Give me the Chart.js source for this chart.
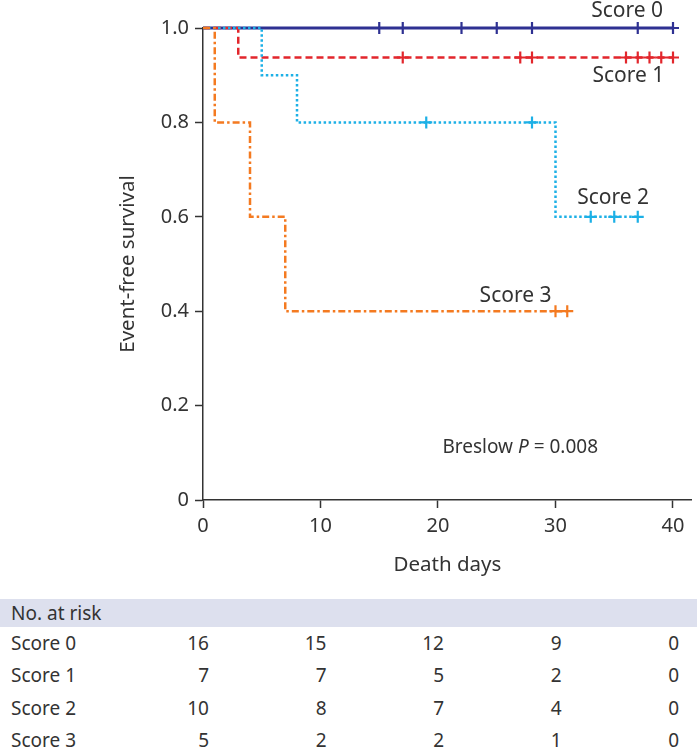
<!DOCTYPE html>
<html><head><meta charset="utf-8">
<script src="https://cdn.jsdelivr.net/npm/chart.js@4/dist/chart.umd.min.js"></script>
<style>
html,body{margin:0;padding:0;background:#fff;}
body{width:700px;height:747px;position:relative;font-family:"Noto Sans",sans-serif;color:#333;}
#wrap{position:absolute;left:0;top:0;width:700px;height:590px;}
#risk{position:absolute;left:0;top:599px;width:700px;}
.band{position:absolute;left:0;top:0;width:697px;height:28px;background:#dde0ee;}
.cell{position:absolute;font-size:19px;line-height:22px;white-space:nowrap;}
</style>
</head><body>
<div id="wrap"><canvas id="c" width="700" height="590"></canvas></div>
<div id="risk"><div class="band"></div></div>
<script>
// ---- data ----
const seriesNames = ['Score 0','Score 1','Score 2','Score 3'];
const seriesColors = ['#2e3192','#e2262c','#1cb0e6','#f47a20'];
// step curves: event times and survival after each event
const score0Times = [0, 40];
const score0Surv  = [1.0, 1.0];
const score1Times = [0, 3, 40];
const score1Surv  = [1.0, 0.9375, 0.9375];
const score2Times = [0, 5, 8, 30, 37];
const score2Surv  = [1.0, 0.9, 0.8, 0.6, 0.6];
const score3Times = [0, 1, 4, 7, 31];
const score3Surv  = [1.0, 0.8, 0.6, 0.4, 0.4];
// censored observations
const score0CensorT = [15, 17, 22, 25, 28, 37, 40];
const score0CensorS = [1.0, 1.0, 1.0, 1.0, 1.0, 1.0, 1.0];
const score1CensorT = [17, 27, 28, 36, 37, 38, 39, 40];
const score1CensorS = [0.9375, 0.9375, 0.9375, 0.9375, 0.9375, 0.9375, 0.9375, 0.9375];
const score2CensorT = [19, 28, 33, 35, 37];
const score2CensorS = [0.8, 0.8, 0.6, 0.6, 0.6];
const score3CensorT = [30, 31];
const score3CensorS = [0.4, 0.4];
// axis ticks
const xTicks = [0, 10, 20, 30, 40];
const yTicks = [0, 0.2, 0.4, 0.6, 0.8, 1.0];
// number at risk table
const riskTimes = [0, 10, 20, 30, 40];
const riskScore0 = [16, 15, 12, 9, 0];
const riskScore1 = [7, 7, 5, 2, 0];
const riskScore2 = [10, 8, 7, 4, 0];
const riskScore3 = [5, 2, 2, 1, 0];

const toPts = (t, s) => t.map((v, i) => ({x: v, y: s[i]}));
const curves = [[score0Times,score0Surv],[score1Times,score1Surv],[score2Times,score2Surv],[score3Times,score3Surv]];
const censors = [[score0CensorT,score0CensorS],[score1CensorT,score1CensorS],[score2CensorT,score2CensorS],[score3CensorT,score3CensorS]];
const dashes = [[], [7,4], [2.5,2.5], [7,3,2.5,3]];

const datasets = [];
curves.forEach((c, i) => {
  datasets.push({label: seriesNames[i], data: toPts(c[0], c[1]), type: 'line', stepped: true,
    borderColor: seriesColors[i], borderWidth: i === 0 ? 2.8 : 2.5, borderDash: dashes[i],
    pointRadius: 0, fill: false, clip: false, order: 3 - i});
});
censors.forEach((c, i) => {
  datasets.push({label: seriesNames[i] + ' censored', data: toPts(c[0], c[1]), type: 'scatter',
    borderColor: seriesColors[i], backgroundColor: seriesColors[i], pointStyle: 'cross',
    pointRadius: 6, borderWidth: 2.2, clip: false, order: 3 - i});
});

const FONT = '"Noto Sans", sans-serif';
const textColor = '#333';

const labelPlugin = {
  id: 'curveLabels',
  afterDatasetsDraw(chart) {
    const {ctx, scales: {x, y}} = chart;
    ctx.save();
    ctx.fillStyle = textColor;
    ctx.font = '21px ' + FONT;
    ctx.textAlign = 'center';
    ctx.textBaseline = 'middle';
    const spots = [[36.1, 1.036], [36.2, 0.898], [34.9, 0.640], [26.6, 0.432]];
    spots.forEach((p, i) => ctx.fillText(seriesNames[i], x.getPixelForValue(p[0]), y.getPixelForValue(p[1])));
    // Breslow P with italic P
    const parts = [['Breslow ', '19px ' + FONT], ['P', 'italic 19px ' + FONT], [' = 0.008', '19px ' + FONT]];
    let total = 0;
    parts.forEach(pt => { ctx.font = pt[1]; total += ctx.measureText(pt[0]).width; });
    let px = x.getPixelForValue(27.0) - total / 2;
    const py = y.getPixelForValue(0.112);
    ctx.textAlign = 'left';
    parts.forEach(pt => { ctx.font = pt[1]; ctx.fillText(pt[0], px, py); px += ctx.measureText(pt[0]).width; });
    ctx.restore();
  }
};

new Chart(document.getElementById('c'), {
  type: 'scatter',
  data: {datasets},
  plugins: [labelPlugin],
  options: {
    responsive: false, animation: false,
    layout: {padding: {left: 112, top: 28, right: 0, bottom: 0}},
    plugins: {legend: {display: false}, tooltip: {enabled: false}},
    scales: {
      x: {
        type: 'linear', min: 0, max: 41.6,
        afterBuildTicks: ax => { ax.ticks = xTicks.map(v => ({value: v})); },
        afterFit: ax => { ax.height = 90; },
        grid: {drawOnChartArea: false, drawTicks: true, tickLength: 8, color: '#333', tickWidth: 1.5},
        border: {color: '#333', width: 1.5},
        ticks: {color: textColor, font: {size: 20, family: FONT}, padding: 6, maxRotation: 0},
        title: {display: true, text: 'Death days', color: textColor, font: {size: 20.5, family: FONT}, padding: {top: 0, bottom: 13}}
      },
      y: {
        type: 'linear', min: 0, max: 1,
        afterBuildTicks: ax => { ax.ticks = yTicks.map(v => ({value: v})); },
        afterFit: ax => { ax.width = 91; },
        grid: {drawOnChartArea: false, drawTicks: true, tickLength: 8, color: '#333', tickWidth: 1.5},
        border: {color: '#333', width: 1.5},
        ticks: {color: textColor, font: {size: 20, family: FONT}, padding: 6,
          callback: v => v === 0 ? '0' : v.toFixed(1)},
        title: {display: true, text: 'Event-free survival', color: textColor, font: {size: 20.5, family: FONT}, padding: {top: 4, bottom: 0}}
      }
    }
  }
});

// number-at-risk table (text)
const risk = document.getElementById('risk');
function cell(txt, left, top, alignRight) {
  const d = document.createElement('div');
  d.className = 'cell';
  d.textContent = txt;
  d.style.top = top + 'px';
  if (alignRight) { d.style.right = (700 - left) + 'px'; } else { d.style.left = left + 'px'; }
  risk.appendChild(d);
}
cell('No. at risk', 11, 3, false);
const riskRows = [riskScore0, riskScore1, riskScore2, riskScore3];
const colRight = riskTimes.map(t => 203 + t * 11.75 + 6);
riskRows.forEach((row, r) => {
  const top = 33 + r * 32.3;
  cell(seriesNames[r], 11, top, false);
  row.forEach((v, c) => cell(String(v), colRight[c], top, true));
});
</script>
</body></html>
